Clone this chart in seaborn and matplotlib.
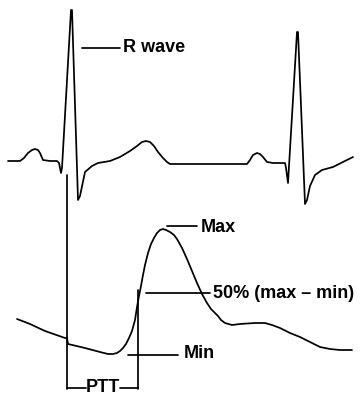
import numpy as np
import pandas as pd
import matplotlib
matplotlib.use("Agg")
import matplotlib.pyplot as plt
import seaborn as sns

# ECG trace (pixel coordinates, y grows downwards)
ecg_x = [8, 20, 24, 28, 32, 35, 38, 40, 43, 50, 57, 59, 61, 62, 71, 72, 78, 80, 85,
         92, 98, 110, 120, 130, 137, 142, 146, 150, 154, 158, 163, 167, 170, 200,
         247, 250, 253, 257, 260, 263, 267, 273, 285, 286, 288, 297, 298, 305, 307,
         310, 315, 322, 333, 343, 353]
ecg_y = [161, 161, 158, 153, 150, 149, 150, 153, 160, 161, 161, 163, 173, 168, 10,
         10, 200, 196, 172, 166, 163, 161, 157, 151, 146, 142, 141, 142, 146, 152,
         158, 162, 164, 164, 164, 160, 155, 153, 154, 157, 162, 163, 163, 168, 183,
         32, 32, 204, 200, 186, 175, 170, 167, 162, 157]

# pulse wave trace
ppg_x = [17, 30, 45, 65, 67, 68, 85, 100, 108, 113, 117, 120, 123, 126, 129, 132,
         135, 137, 139, 141, 143, 145, 148, 151, 154, 157, 160, 163, 166, 170, 174,
         177, 182, 187, 192, 197, 202, 207, 211, 215, 218, 221, 225, 232, 240, 255,
         265, 272, 280, 290, 300, 310, 320, 330, 340, 352]
ppg_y = [319, 324, 331, 338, 338, 344, 348, 352, 354, 354, 353, 351, 348, 344, 338,
         331, 320, 307, 296, 286, 275, 265, 253, 244, 238, 233, 230, 229, 230, 232,
         235, 239, 248, 259, 271, 283, 294, 303, 309, 313, 316, 320, 323, 325, 324,
         323, 323, 325, 328, 333, 337, 342, 347, 349, 350, 350]

labels = ["R wave", "Max", "50% (max \u2013 min)", "Min", "PTT"]

ecg = pd.DataFrame({"x": ecg_x, "y": ecg_y})
ppg = pd.DataFrame({"x": ppg_x, "y": ppg_y})

sns.set_style("white")
plt.rcParams["font.family"] = ["Liberation Sans", "DejaVu Sans"]

fig = plt.figure(figsize=(3.63, 3.95), dpi=100)
ax = fig.add_axes([0, 0, 1, 1])

lw = 1.25
sns.lineplot(data=ecg, x="x", y="y", sort=False, estimator=None, color="black", lw=lw, ax=ax)
sns.lineplot(data=ppg, x="x", y="y", sort=False, estimator=None, color="black", lw=lw, ax=ax)

# marker lines
ax.plot([67, 67], [175, 389], color="black", lw=lw)
ax.plot([138, 138], [290, 389], color="black", lw=lw)
ax.plot([67, 86], [388, 388], color="black", lw=lw)
ax.plot([120, 138], [388, 388], color="black", lw=lw)

# annotation leaders
ax.plot([82, 120], [48, 48], color="black", lw=lw)
ax.plot([167, 197], [226, 226], color="black", lw=lw)
ax.plot([146, 210], [293, 293], color="black", lw=lw)
ax.plot([128, 178], [355, 355], color="black", lw=lw)

fs = 13
kw = dict(fontsize=fs, fontweight="bold", va="center", color="black")
ax.text(123, 48, labels[0], ha="left", **kw)
ax.text(201, 228, labels[1], ha="left", **kw)
ax.text(213, 293, labels[2], ha="left", **kw)
ax.text(184, 354, labels[3], ha="left", **kw)
ax.text(103, 388, labels[4], ha="center", **kw)

ax.set_xlim(0, 363)
ax.set_ylim(395, 0)
ax.axis("off")

fig.savefig("out.png", dpi=100)
